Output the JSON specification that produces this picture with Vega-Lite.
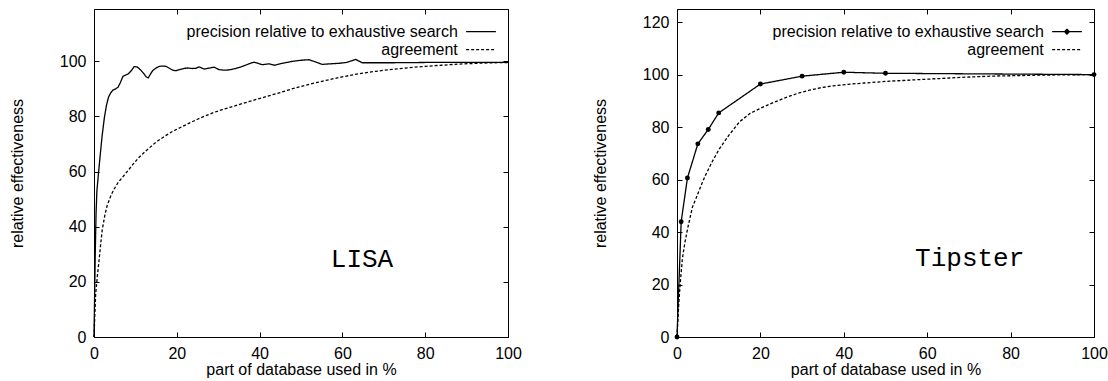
{
  "$schema": "https://vega.github.io/schema/vega-lite/v6.json",
  "padding": {"left": 8, "top": 8, "right": 0, "bottom": 0},
  "spacing": 169,
  "bounds": "flush",
  "resolve": {"scale": {"strokeDash": "independent"}, "legend": {"strokeDash": "independent"}},
  "datasets": {
    "lisaPrecision": [
      {"x":0,"y":0},{"x":0.15,"y":15},{"x":0.3,"y":30},{"x":0.5,"y":45},{"x":0.7,"y":53},{"x":1.0,"y":58},{"x":1.5,"y":66},{"x":2.0,"y":73.5},{"x":2.5,"y":79.5},{"x":3.0,"y":84},{"x":3.5,"y":87},{"x":4.0,"y":88.5},{"x":4.6,"y":89.6},{"x":5.2,"y":90},{"x":5.8,"y":90.6},{"x":6.4,"y":92.4},{"x":7.0,"y":94.6},{"x":7.6,"y":95},{"x":8.3,"y":95.5},{"x":9.0,"y":96.6},{"x":9.7,"y":98.1},{"x":10.4,"y":98},{"x":11.2,"y":97},{"x":12.0,"y":95.6},{"x":12.6,"y":94.4},{"x":13.1,"y":94},{"x":13.6,"y":95.3},{"x":14.2,"y":96.7},{"x":15.0,"y":97.6},{"x":15.8,"y":98.2},{"x":16.6,"y":98.3},{"x":17.4,"y":98.2},{"x":18.2,"y":97.5},{"x":19.0,"y":96.8},{"x":19.8,"y":96.6},{"x":20.6,"y":97},{"x":21.6,"y":97.4},{"x":22.6,"y":97.6},{"x":23.7,"y":97.4},{"x":24.6,"y":97.5},{"x":25.4,"y":98},{"x":26.6,"y":97.2},{"x":27.6,"y":97.5},{"x":29.0,"y":97.9},{"x":30.2,"y":97.0},{"x":31.5,"y":96.8},{"x":32.6,"y":96.9},{"x":34.2,"y":97.4},{"x":35.5,"y":98.0},{"x":36.6,"y":98.6},{"x":37.6,"y":99.2},{"x":38.6,"y":99.7},{"x":39.6,"y":99.3},{"x":40.6,"y":98.8},{"x":42.3,"y":99.1},{"x":43.6,"y":98.6},{"x":45.5,"y":99.3},{"x":47.9,"y":100},{"x":50,"y":100.4},{"x":51.9,"y":100.6},{"x":53.5,"y":99.8},{"x":55.1,"y":98.9},{"x":57,"y":99.1},{"x":59.2,"y":99.3},{"x":61,"y":99.6},{"x":62.4,"y":100.3},{"x":63.2,"y":100.7},{"x":64,"y":100.1},{"x":64.8,"y":99.5},{"x":68,"y":99.5},{"x":72,"y":99.5},{"x":80,"y":99.6},{"x":90,"y":99.6},{"x":100,"y":99.6}
    ],
    "lisaAgreement": [
      {"x":0,"y":0},{"x":0.2,"y":8},{"x":0.4,"y":15.5},{"x":0.8,"y":22},{"x":1.2,"y":27.5},{"x":1.6,"y":33.5},{"x":2.0,"y":39},{"x":2.6,"y":44},{"x":3.2,"y":47.8},{"x":4.0,"y":51},{"x":4.8,"y":53.5},{"x":5.8,"y":56},{"x":6.8,"y":57.8},{"x":8.0,"y":60},{"x":9.5,"y":62.8},{"x":10.9,"y":65.2},{"x":12.5,"y":67.5},{"x":14.9,"y":70.6},{"x":17,"y":72.8},{"x":19,"y":74.6},{"x":21,"y":76.1},{"x":23,"y":77.6},{"x":25,"y":79},{"x":27,"y":80.3},{"x":29,"y":81.5},{"x":31,"y":82.5},{"x":33,"y":83.4},{"x":35,"y":84.3},{"x":37,"y":85.2},{"x":39,"y":86.1},{"x":42,"y":87.4},{"x":45,"y":88.7},{"x":48,"y":90.1},{"x":52,"y":91.7},{"x":56,"y":93.1},{"x":60,"y":94.4},{"x":64,"y":95.5},{"x":68,"y":96.4},{"x":72,"y":97.1},{"x":76,"y":97.7},{"x":80,"y":98.2},{"x":84,"y":98.6},{"x":88,"y":99},{"x":94,"y":99.4},{"x":100,"y":99.6}
    ],
    "tipsterPrecision": [
      {"x":0,"y":0},{"x":1,"y":43.9},{"x":2.5,"y":60.6},{"x":5,"y":73.6},{"x":7.5,"y":79.1},{"x":10,"y":85.4},{"x":20,"y":96.4},{"x":30,"y":99.4},{"x":40,"y":100.9},{"x":50,"y":100.5},{"x":100,"y":100}
    ],
    "tipsterAgreement": [
      {"x":0,"y":0},{"x":0.4,"y":12},{"x":0.8,"y":21},{"x":1.3,"y":30},{"x":1.9,"y":36},{"x":2.5,"y":41},{"x":3.7,"y":49.5},{"x":4.6,"y":53},{"x":6.1,"y":59},{"x":7.0,"y":62.2},{"x":8.5,"y":67},{"x":10.2,"y":71.8},{"x":12.5,"y":77},{"x":15,"y":82},{"x":17.5,"y":85.2},{"x":20.6,"y":87.6},{"x":23.5,"y":89.6},{"x":26.2,"y":91.3},{"x":29,"y":92.9},{"x":31.8,"y":94.1},{"x":34.5,"y":95},{"x":37.4,"y":95.7},{"x":41,"y":96.3},{"x":45,"y":96.8},{"x":51,"y":97.5},{"x":57,"y":98},{"x":63,"y":98.5},{"x":69,"y":99},{"x":75,"y":99.4},{"x":81,"y":99.6},{"x":87,"y":99.8},{"x":93,"y":99.9},{"x":100,"y":100}
    ]
  },
  "config": {
    "font": "Liberation Sans",
    "view": {"stroke": "black", "strokeWidth": 1},
    "axis": {
      "labelFont": "Liberation Sans", "labelFontSize": 16, "labelColor": "black", "labelFlush": false,
      "titleFont": "Liberation Sans", "titleFontSize": 16, "titleFontWeight": "normal", "titleColor": "black",
      "grid": false, "domain": false, "tickColor": "black", "tickSize": -5, "tickWidth": 1, "labelPadding": 13
    },
    "axisY": {"titlePadding": 34},
    "axisX": {"titlePadding": 0},
    "legend": {
      "labelFont": "Liberation Sans", "labelFontSize": 16, "labelColor": "black", "labelLimit": 500,
      "labelAlign": "right", "labelOffset": -32.7,
      "symbolType": "M-1.75,0H1.75", "symbolSize": 289, "symbolStrokeWidth": 1.3, "symbolStrokeColor": "black",
      "padding": 0, "rowPadding": 0, "title": null
    }
  },
  "hconcat": [
    {
      "width": 414, "height": 328,
      "resolve": {"axis": {"x": "independent", "y": "independent"}},
      "layer": [
        {
          "data": {"name": "lisaAgreement"},
          "mark": {"type": "line", "color": "black", "strokeWidth": 1.3},
          "encoding": {
            "x": {"field": "x", "type": "quantitative", "scale": {"domain": [0, 100], "nice": false},
                  "axis": {"values": [0, 20, 40, 60, 80, 100], "title": "part of database used in %"}},
            "y": {"field": "y", "type": "quantitative", "scale": {"domain": [0, 119], "nice": false},
                  "axis": {"values": [0, 20, 40, 60, 80, 100], "title": "relative effectiveness"}},
            "strokeDash": {"datum": "agreement", "type": "nominal",
              "scale": {"domain": ["precision relative to exhaustive search", "agreement"], "range": [[1, 0], [3, 2]]},
              "legend": {"orient": "none", "legendX": 377.5, "legendY": 13.2}}
          }
        },
        {
          "data": {"name": "lisaPrecision"},
          "mark": {"type": "line", "color": "black", "strokeWidth": 1.3},
          "encoding": {
            "x": {"field": "x", "type": "quantitative", "scale": {"domain": [0, 100], "nice": false}, "axis": null},
            "y": {"field": "y", "type": "quantitative", "scale": {"domain": [0, 119], "nice": false}, "axis": null},
            "strokeDash": {"datum": "precision relative to exhaustive search", "type": "nominal"}
          }
        },
        {
          "data": {"values": [{"label": "LISA"}]},
          "mark": {"type": "text", "font": "Liberation Mono", "fontSize": 26, "align": "left", "baseline": "alphabetic", "color": "black"},
          "encoding": {
            "x": {"datum": 57.2, "type": "quantitative", "scale": {"domain": [0, 100], "nice": false},
                  "axis": {"orient": "top", "values": [0, 20, 40, 60, 80, 100], "labels": false, "title": null}},
            "y": {"datum": 25.4, "type": "quantitative", "scale": {"domain": [0, 119], "nice": false},
                  "axis": {"orient": "right", "values": [0, 20, 40, 60, 80, 100], "labels": false, "title": null}},
            "text": {"field": "label"}
          }
        }
      ]
    },
    {
      "width": 417, "height": 328,
      "resolve": {"axis": {"x": "independent", "y": "independent"}},
      "layer": [
        {
          "data": {"name": "tipsterAgreement"},
          "mark": {"type": "line", "color": "black", "strokeWidth": 1.3},
          "encoding": {
            "x": {"field": "x", "type": "quantitative", "scale": {"domain": [0, 100], "nice": false},
                  "axis": {"values": [0, 20, 40, 60, 80, 100], "title": "part of database used in %"}},
            "y": {"field": "y", "type": "quantitative", "scale": {"domain": [0, 125], "nice": false},
                  "axis": {"values": [0, 20, 40, 60, 80, 100, 120], "title": "relative effectiveness"}},
            "strokeDash": {"datum": "agreement", "type": "nominal",
              "scale": {"domain": ["precision relative to exhaustive search", "agreement"], "range": [[1, 0], [3, 2]]},
              "legend": {"orient": "none", "legendX": 380.5, "legendY": 13.2,
                "encode": {"symbols": {"update": {
                  "shape": {"signal": "datum.value == 'agreement' ? 'M-1.75,0H1.75' : 'M-1.75,0H1.75M-0.28,0L0,-0.28L0.28,0L0,0.28Z'"},
                  "fill": {"value": "black"},
                  "stroke": {"value": "black"},
                  "strokeWidth": {"value": 1.3},
                  "strokeDash": {"signal": "datum.value == 'agreement' ? [3, 2] : [1, 0]"},
                  "opacity": {"value": 1}}}}}}
          }
        },
        {
          "data": {"name": "tipsterPrecision"},
          "mark": {"type": "line", "color": "black", "strokeWidth": 1.3},
          "encoding": {
            "x": {"field": "x", "type": "quantitative", "scale": {"domain": [0, 100], "nice": false}, "axis": null},
            "y": {"field": "y", "type": "quantitative", "scale": {"domain": [0, 125], "nice": false}, "axis": null},
            "strokeDash": {"datum": "precision relative to exhaustive search", "type": "nominal"}
          }
        },
        {
          "data": {"name": "tipsterPrecision"},
          "mark": {"type": "point", "filled": true, "color": "black", "size": 24, "opacity": 1},
          "encoding": {
            "x": {"field": "x", "type": "quantitative", "scale": {"domain": [0, 100], "nice": false}, "axis": null},
            "y": {"field": "y", "type": "quantitative", "scale": {"domain": [0, 125], "nice": false}, "axis": null}
          }
        },
        {
          "data": {"values": [{"label": "Tipster"}]},
          "mark": {"type": "text", "font": "Liberation Mono", "fontSize": 26, "align": "left", "baseline": "alphabetic", "color": "black"},
          "encoding": {
            "x": {"datum": 57.1, "type": "quantitative", "scale": {"domain": [0, 100], "nice": false},
                  "axis": {"orient": "top", "values": [0, 20, 40, 60, 80, 100], "labels": false, "title": null}},
            "y": {"datum": 27, "type": "quantitative", "scale": {"domain": [0, 125], "nice": false},
                  "axis": {"orient": "right", "values": [0, 20, 40, 60, 80, 100, 120], "labels": false, "title": null}},
            "text": {"field": "label"}
          }
        }
      ]
    }
  ]
}
